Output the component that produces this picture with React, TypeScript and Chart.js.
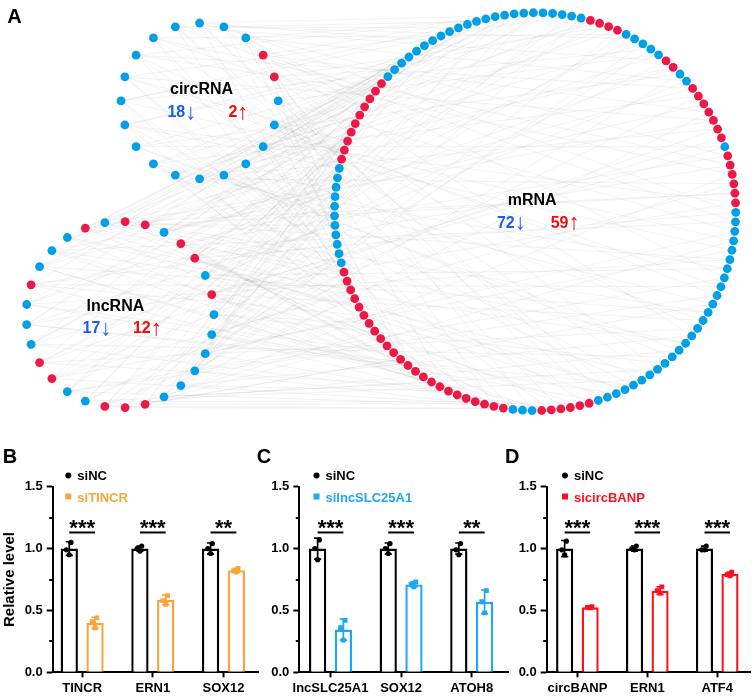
import React, { useEffect, useRef } from 'react';
import { Chart, registerables } from 'chart.js';

Chart.register(...registerables);

const FONT = "'Liberation Sans', Arial, Helvetica, sans-serif";
Chart.defaults.font.family = FONT;

// ---------------- Panel A data ----------------
const groupNames = ['circRNA', 'lncRNA', 'mRNA'];
const downCounts = [18, 17, 72];
const upCounts = [2, 12, 59];

// node regulation, clockwise from the top ("d" = down / blue, "u" = up / red)
const circStatus = 'ddduu' + 'ddddd' + 'ddddd' + 'ddddd';
const lncStatus = 'duuduudu' + 'dddddd' + 'uuu' + 'dd' + 'uu' + 'ddd' + 'u' + 'ddd' + 'u';
const mrnaRuns: [string, number][] = [
  ['d', 6], ['u', 4], ['d', 5], ['u', 2], ['d', 2], ['u', 7], ['d', 1], ['u', 6],
  ['d', 27], ['u', 6], ['d', 3], ['u', 24], ['d', 11], ['u', 10], ['d', 17],
];

// edges: for each ncRNA node, the mRNA nodes it links to
const circTargets: number[][] = [
  [3, 27, 58, 88, 104, 120], [11, 33, 61, 79, 107, 125], [18, 40, 66, 84, 110, 2],
  [22, 47, 70, 95, 112, 129], [29, 52, 75, 99, 115, 8], [35, 57, 81, 102, 118, 14],
  [1, 42, 63, 86, 106, 127], [9, 37, 68, 90, 109, 122], [16, 45, 72, 97, 113, 5],
  [24, 50, 77, 101, 116, 130], [30, 55, 83, 105, 119, 12], [6, 39, 60, 87, 108, 124],
  [20, 43, 73, 92, 111, 0], [26, 49, 79, 98, 114, 17], [32, 54, 71, 103, 117, 7],
  [13, 36, 64, 89, 121, 128], [4, 41, 69, 94, 106, 23], [19, 46, 76, 100, 112, 126],
  [28, 53, 82, 96, 110, 10], [34, 59, 85, 104, 123, 15],
];
const lncTargets: number[][] = [
  [2, 31, 62, 91, 108, 129], [8, 38, 67, 93, 113, 120], [14, 44, 74, 97, 105, 125],
  [21, 48, 78, 102, 111, 1], [27, 56, 80, 99, 116, 6], [33, 58, 84, 107, 119, 11],
  [39, 61, 88, 103, 122, 18], [45, 65, 70, 95, 109, 25], [51, 68, 86, 101, 114, 3],
  [0, 57, 73, 90, 106, 130], [12, 35, 64, 87, 112, 124], [17, 42, 66, 92, 104, 127],
  [22, 47, 75, 98, 118, 9], [29, 52, 77, 100, 115, 5], [36, 60, 81, 94, 110, 121],
  [43, 63, 85, 96, 107, 128], [49, 69, 89, 105, 117, 13], [54, 72, 91, 108, 123, 20],
  [4, 40, 62, 83, 113, 126], [10, 37, 71, 93, 111, 30], [15, 46, 76, 99, 119, 24],
  [26, 50, 74, 102, 116, 7], [32, 55, 80, 97, 109, 125], [38, 59, 82, 103, 120, 16],
  [41, 64, 87, 95, 114, 28], [44, 67, 78, 106, 122, 19], [48, 70, 84, 100, 118, 34],
  [53, 73, 90, 104, 127, 23], [56, 79, 92, 101, 129, 31],
];

// ---------------- Panels B-D data ----------------
const yTickValues = [0, 0.5, 1.0, 1.5];
const yTickLabels = ['0.0', '0.5', '1.0', '1.5'];
const yMinorTicks = [0.25, 0.75, 1.25];
const controlLabel = 'siNC';

const bCategories = ['TINCR', 'ERN1', 'SOX12'];
const bCtrlMean = [1.0, 1.0, 1.0];
const bCtrlSd = [0.055, 0.02, 0.045];
const bCtrlDots = [[1.05, 0.99, 0.95], [1.02, 1.0, 0.98], [1.04, 1.0, 0.96]];
const bTreatLabel = 'siTINCR';
const bTreatMean = [0.40, 0.585, 0.825];
const bTreatSd = [0.045, 0.04, 0.015];
const bTreatDots = [[0.44, 0.41, 0.36], [0.62, 0.58, 0.55], [0.84, 0.82, 0.81]];
const bStars = ['***', '***', '**'];

const cCategories = ['lncSLC25A1', 'SOX12', 'ATOH8'];
const cCtrlMean = [1.0, 1.0, 1.0];
const cCtrlSd = [0.085, 0.045, 0.045];
const cCtrlDots = [[1.07, 1.0, 0.91], [1.04, 1.0, 0.96], [1.04, 0.99, 0.95]];
const cTreatLabel = 'silncSLC25A1';
const cTreatMean = [0.345, 0.71, 0.57];
const cTreatSd = [0.085, 0.02, 0.095];
const cTreatDots = [[0.42, 0.36, 0.26], [0.73, 0.71, 0.69], [0.66, 0.57, 0.48]];
const cStars = ['***', '***', '**'];

const dCategories = ['circBANP', 'ERN1', 'ATF4'];
const dCtrlMean = [1.0, 1.0, 1.0];
const dCtrlSd = [0.065, 0.02, 0.02];
const dCtrlDots = [[1.06, 0.99, 0.95], [1.02, 1.0, 0.99], [1.02, 0.99, 0.99]];
const dTreatLabel = 'sicircBANP';
const dTreatMean = [0.525, 0.66, 0.795];
const dTreatSd = [0.008, 0.03, 0.015];
const dTreatDots = [[0.53, 0.525, 0.52], [0.69, 0.66, 0.64], [0.81, 0.79, 0.78]];
const dStars = ['***', '***', '***'];

// ---------------- styles / layout ----------------
const NODE_BLUE = '#00a0e9';
const NODE_RED = '#ee1846';
const TEXT_BLUE = '#1b5cf5';
const TEXT_RED = '#f50a0a';
const EDGE = 'rgba(140,140,140,0.15)';
const ORANGE = '#f9a53c';
const SKY = '#1ea7f5';
const RED = '#fe1020';

const circLayout = { cx: 197.5, cy: 98.5, r: 79.5, start: 0 };
const lncLayout = { cx: 117, cy: 316.5, r: 95, start: -9.3 };
const mrnaLayout = { cx: 537, cy: 211.5, r: 203, start: -0.5 };
const netLabelLayout = [
  { nameX: 199.5, nameY: 91.7, downX: 165, upX: 226.7, countY: 115 },
  { nameX: 112.3, nameY: 312.7, downX: 79, upX: 130, countY: 335.5 },
  { nameX: 534, nameY: 205, downX: 498.3, upX: 552.7, countY: 227.7 },
];

type Pt = { x: number; y: number };
function nodePos(L: { cx: number; cy: number; r: number; start: number }, n: number, i: number): Pt {
  const a = ((L.start + (i * 360) / n) * Math.PI) / 180;
  return { x: L.cx + L.r * Math.sin(a), y: L.cy - L.r * Math.cos(a) };
}

// number followed by a thin vertical arrow
function drawCount(ctx: CanvasRenderingContext2D, num: string, arrow: string, x: number, y: number, color: string) {
  ctx.fillStyle = color;
  ctx.font = `bold 16px ${FONT}`;
  ctx.textAlign = 'left';
  ctx.fillText(num, x, y);
  const w = ctx.measureText(num).width;
  ctx.font = `22px ${FONT}`;
  ctx.fillText(arrow, x + w, y + 1.5);
}

function makeNetwork(canvas: HTMLCanvasElement) {
  const mrnaStatus = mrnaRuns.map(([s, n]) => s.repeat(n)).join('');
  const circPts = circStatus.split('').map((_, i) => nodePos(circLayout, circStatus.length, i));
  const lncPts = lncStatus.split('').map((_, i) => nodePos(lncLayout, lncStatus.length, i));
  const mrnaPts = mrnaStatus.split('').map((_, i) => nodePos(mrnaLayout, mrnaStatus.length, i));

  const blue: Pt[] = [];
  const red: Pt[] = [];
  const add = (status: string, pts: Pt[]) =>
    status.split('').forEach((s, i) => (s === 'u' ? red : blue).push(pts[i]));
  add(circStatus, circPts);
  add(lncStatus, lncPts);
  add(mrnaStatus, mrnaPts);

  const edgeSets: any[] = [];
  const addEdges = (targets: number[][], pts: Pt[]) =>
    targets.forEach((list, i) =>
      list.forEach((t) =>
        edgeSets.push({
          data: [pts[i], mrnaPts[t]],
          showLine: true,
          borderColor: EDGE,
          borderWidth: 0.7,
          pointRadius: 0,
          clip: false,
          order: 1,
        })
      )
    );
  addEdges(circTargets, circPts);
  addEdges(lncTargets, lncPts);

  const nodeSet = (data: Pt[], color: string) => ({
    data,
    showLine: false,
    pointRadius: 4.4,
    backgroundColor: color,
    borderColor: color,
    pointBorderWidth: 0,
    clip: false,
    order: 0,
  });

  const netText = {
    id: 'netText',
    afterDraw(chart: any) {
      const { ctx } = chart;
      const px = (v: number) => chart.scales.x.getPixelForValue(v);
      const py = (v: number) => chart.scales.y.getPixelForValue(v);
      ctx.save();
      ctx.textBaseline = 'alphabetic';
      ctx.fillStyle = '#000';
      ctx.textAlign = 'left';
      ctx.font = `bold 20px ${FONT}`;
      ctx.fillText('A', px(3), py(19));
      netLabelLayout.forEach((L, g) => {
        ctx.font = `bold 16px ${FONT}`;
        ctx.fillStyle = '#000';
        ctx.textAlign = 'center';
        ctx.fillText(groupNames[g], px(L.nameX), py(L.nameY));
        drawCount(ctx, String(downCounts[g]), '\u2193', px(L.downX), py(L.countY), TEXT_BLUE);
        drawCount(ctx, String(upCounts[g]), '\u2191', px(L.upX), py(L.countY), TEXT_RED);
      });
      ctx.restore();
    },
  };

  return new Chart(canvas, {
    type: 'scatter',
    data: { datasets: [nodeSet(blue, NODE_BLUE), nodeSet(red, NODE_RED), ...edgeSets] as any },
    options: {
      responsive: false,
      animation: false,
      events: [],
      layout: { padding: 0 },
      plugins: { legend: { display: false }, tooltip: { enabled: false } },
      scales: {
        x: { type: 'linear', min: 0, max: 754, display: false },
        y: { type: 'linear', min: 0, max: 440, reverse: true, display: false },
      },
    },
    plugins: [netText],
  });
}

type BarPanel = {
  letter: string;
  cats: string[];
  ctrlMean: number[]; ctrlSd: number[]; ctrlDots: number[][];
  trtLabel: string; trtMean: number[]; trtSd: number[]; trtDots: number[][];
  stars: string[];
  color: string;
  L: { canvasLeft: number; canvasWidth: number; axisLeft: number; firstCenter: number; spacing: number; axisRight: number; letterX: number; legendX: number; yTitle: boolean };
};

const barPanels: BarPanel[] = [
  { letter: 'B', cats: bCategories, ctrlMean: bCtrlMean, ctrlSd: bCtrlSd, ctrlDots: bCtrlDots, trtLabel: bTreatLabel, trtMean: bTreatMean, trtSd: bTreatSd, trtDots: bTreatDots, stars: bStars, color: ORANGE,
    L: { canvasLeft: 0, canvasWidth: 262, axisLeft: 52.7, firstCenter: 82.3, spacing: 71, axisRight: 259, letterX: 2.7, legendX: 77.3, yTitle: true } },
  { letter: 'C', cats: cCategories, ctrlMean: cCtrlMean, ctrlSd: cCtrlSd, ctrlDots: cCtrlDots, trtLabel: cTreatLabel, trtMean: cTreatMean, trtSd: cTreatSd, trtDots: cTreatDots, stars: cStars, color: SKY,
    L: { canvasLeft: 250, canvasWidth: 262, axisLeft: 299.3, firstCenter: 330.5, spacing: 70.6, axisRight: 508, letterX: 256.7, legendX: 325.5, yTitle: false } },
  { letter: 'D', cats: dCategories, ctrlMean: dCtrlMean, ctrlSd: dCtrlSd, ctrlDots: dCtrlDots, trtLabel: dTreatLabel, trtMean: dTreatMean, trtSd: dTreatSd, trtDots: dTreatDots, stars: dStars, color: RED,
    L: { canvasLeft: 500, canvasWidth: 254, axisLeft: 546.7, firstCenter: 577.7, spacing: 70.6, axisRight: 752, letterX: 505, legendX: 574, yTitle: false } },
];

const CANVAS_TOP = 440;
const CANVAS_H = 258;
const AREA_TOP = 46.7;
const AREA_BOTTOM = 232.3;
const CAT_PCT = 0.73;
const BAR_PCT = 0.67;
const JITTER = [0.025, -0.04, 0];
const SIG_LEVEL = 1.13;

function makeBar(canvas: HTMLCanvasElement, p: BarPanel) {
  const L = p.L;
  const xMin = -(L.firstCenter - L.axisLeft) / L.spacing;
  const xMax = (L.axisRight - L.firstCenter) / L.spacing;
  const groupShift = CAT_PCT / 4;

  const barSet = (label: string, mean: number[], color: string) => ({
    type: 'bar',
    label,
    data: p.cats.map((_, i) => ({ x: i, y: mean[i] })),
    backgroundColor: '#ffffff',
    borderColor: color,
    borderWidth: 2.4,
    categoryPercentage: CAT_PCT,
    barPercentage: BAR_PCT,
    order: 2,
  });
  const dotSet = (dots: number[][], shift: number, color: string, style: string, r: number) => ({
    type: 'scatter',
    data: dots.flatMap((vals, i) => vals.map((v, k) => ({ x: i + shift + JITTER[k], y: v }))),
    backgroundColor: color,
    borderColor: color,
    pointBorderWidth: 0,
    pointRadius: r,
    pointStyle: style,
    order: 1,
  });

  const extras = {
    id: 'extras',
    afterDatasetDraw(chart: any, args: any) {
      if (args.index !== 0) return;
      const { ctx } = chart;
      const ys = chart.scales.y;
      const groups: [number, number[], number[], string][] = [
        [0, p.ctrlMean, p.ctrlSd, '#000'],
        [1, p.trtMean, p.trtSd, p.color],
      ];
      ctx.save();
      groups.forEach(([di, mean, sd, col]) => {
        chart.getDatasetMeta(di).data.forEach((bar: any, i: number) => {
          const x = bar.x;
          const y1 = ys.getPixelForValue(mean[i] + sd[i]);
          const y2 = ys.getPixelForValue(mean[i] - sd[i]);
          ctx.strokeStyle = col;
          ctx.lineWidth = 1.7;
          ctx.beginPath();
          ctx.moveTo(x, y1); ctx.lineTo(x, y2);
          ctx.moveTo(x - 3.6, y1); ctx.lineTo(x + 3.6, y1);
          ctx.moveTo(x - 3.6, y2); ctx.lineTo(x + 3.6, y2);
          ctx.stroke();
        });
      });
      ctx.restore();
    },
    afterDraw(chart: any) {
      const { ctx, chartArea } = chart;
      const ys = chart.scales.y;
      ctx.save();
      // minor ticks
      ctx.strokeStyle = '#000';
      ctx.lineWidth = 2;
      yMinorTicks.forEach((v) => {
        const y = Math.round(ys.getPixelForValue(v));
        ctx.beginPath();
        ctx.moveTo(chartArea.left - 3.5, y);
        ctx.lineTo(chartArea.left, y);
        ctx.stroke();
      });
      // significance
      const m0 = chart.getDatasetMeta(0).data;
      const m1 = chart.getDatasetMeta(1).data;
      const sy = ys.getPixelForValue(SIG_LEVEL);
      p.stars.forEach((s, i) => {
        const x0 = m0[i].x, x1 = m1[i].x;
        ctx.strokeStyle = '#000';
        ctx.lineWidth = 2;
        ctx.beginPath();
        ctx.moveTo(x0, sy); ctx.lineTo(x1, sy);
        ctx.stroke();
        ctx.fillStyle = '#000';
        ctx.font = `bold 22px ${FONT}`;
        ctx.textAlign = 'center';
        ctx.textBaseline = 'alphabetic';
        ctx.fillText(s, (x0 + x1) / 2, sy + 3);
      });
      // legend
      const lx = L.legendX - L.canvasLeft;
      ctx.fillStyle = '#000';
      ctx.beginPath();
      ctx.arc(lx - 9, 475.6 - CANVAS_TOP, 3, 0, Math.PI * 2);
      ctx.fill();
      ctx.font = `bold 13px ${FONT}`;
      ctx.textAlign = 'left';
      ctx.textBaseline = 'alphabetic';
      ctx.fillText(controlLabel, lx, 480 - CANVAS_TOP);
      ctx.fillStyle = p.color;
      ctx.fillRect(lx - 12, 493.5 - CANVAS_TOP, 6, 6);
      ctx.fillText(p.trtLabel, lx, 501.5 - CANVAS_TOP);
      // panel letter
      ctx.fillStyle = '#000';
      ctx.font = `bold 20px ${FONT}`;
      ctx.fillText(p.letter, L.letterX - L.canvasLeft, 463.3 - CANVAS_TOP);
      ctx.restore();
    },
  };

  const tickFont = { weight: 'bold' as const, size: 13, family: FONT };

  return new Chart(canvas, {
    type: 'bar',
    data: {
      datasets: [
        barSet(controlLabel, p.ctrlMean, '#000'),
        barSet(p.trtLabel, p.trtMean, p.color),
        dotSet(p.ctrlDots, -groupShift, '#000', 'circle', 2.6),
        dotSet(p.trtDots, groupShift, p.color, 'rect', 3.4),
      ] as any,
    },
    options: {
      responsive: false,
      animation: false,
      events: [],
      layout: { padding: { left: 0, top: AREA_TOP, right: L.canvasWidth - (L.axisRight - L.canvasLeft), bottom: 0 } },
      plugins: { legend: { display: false }, tooltip: { enabled: false } },
      scales: {
        x: {
          type: 'linear',
          min: xMin,
          max: xMax,
          offset: false,
          afterFit: (s: any) => { s.height = CANVAS_H - AREA_BOTTOM; },
          afterBuildTicks: (s: any) => { s.ticks = p.cats.map((_, i) => ({ value: i })); },
          grid: { display: true, offset: false, drawOnChartArea: false, drawTicks: true, tickLength: 5, tickWidth: 2, tickColor: '#000' },
          border: { display: true, width: 2, color: '#000' },
          ticks: { autoSkip: false, maxRotation: 0, minRotation: 0, padding: 3, color: '#000', font: tickFont,
            callback: (_v: any, i: number) => p.cats[i] },
        },
        y: {
          type: 'linear',
          min: 0,
          max: 1.5,
          afterFit: (s: any) => { s.width = L.axisLeft - L.canvasLeft; },
          afterBuildTicks: (s: any) => { s.ticks = yTickValues.map((v) => ({ value: v })); },
          grid: { display: true, drawOnChartArea: false, drawTicks: true, tickLength: 6, tickWidth: 2, tickColor: '#000' },
          border: { display: true, width: 2, color: '#000' },
          ticks: { padding: 4, color: '#000', font: tickFont, callback: (_v: any, i: number) => yTickLabels[i] },
          title: { display: L.yTitle, text: 'Relative level', color: '#000', font: { weight: 'bold', size: 15, family: FONT }, padding: { top: 1, bottom: 0 } },
        },
      },
    } as any,
    plugins: [extras],
  });
}

export default function App() {
  const netRef = useRef<HTMLCanvasElement>(null);
  const bRef = useRef<HTMLCanvasElement>(null);
  const cRef = useRef<HTMLCanvasElement>(null);
  const dRef = useRef<HTMLCanvasElement>(null);

  useEffect(() => {
    const charts: Chart[] = [];
    if (netRef.current) charts.push(makeNetwork(netRef.current));
    [bRef, cRef, dRef].forEach((r, k) => {
      if (r.current) charts.push(makeBar(r.current, barPanels[k]));
    });
    return () => charts.forEach((c) => c.destroy());
  }, []);

  const barRefs = [bRef, cRef, dRef];
  return (
    <div style={{ position: 'absolute', left: 0, top: 0, width: 754, height: 698, background: '#fff', overflow: 'hidden' }}>
      <canvas ref={netRef} width={754} height={440} style={{ position: 'absolute', left: 0, top: 0 }} />
      {barPanels.map((p, k) => (
        <canvas
          key={p.letter}
          ref={barRefs[k]}
          width={p.L.canvasWidth}
          height={CANVAS_H}
          style={{ position: 'absolute', left: p.L.canvasLeft, top: CANVAS_TOP }}
        />
      ))}
    </div>
  );
}
